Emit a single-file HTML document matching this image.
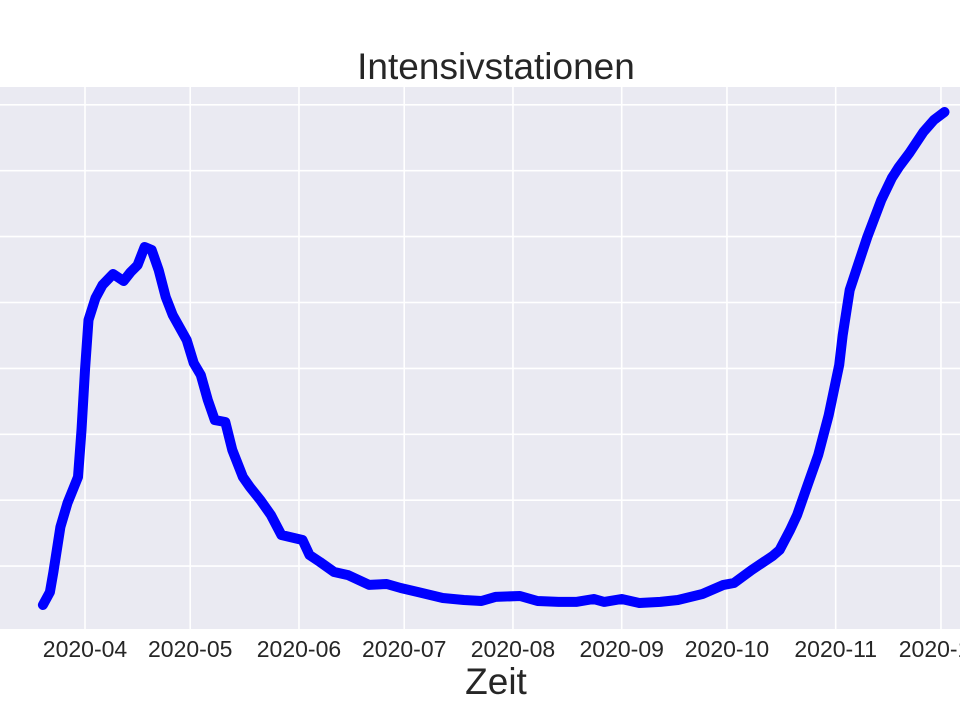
<!DOCTYPE html>
<html><head><meta charset="utf-8"><style>
html,body{margin:0;padding:0;background:#fff;}
svg{display:block;font-family:"Liberation Sans",sans-serif;}
</style></head><body>
<svg id="chart" width="960" height="720" xmlns="http://www.w3.org/2000/svg">
<rect x="0" y="87" width="960" height="542" fill="#eaeaf2"/>
<g id="grid"></g>
<g id="xticks"></g>
<path id="line" fill="none" stroke="#0000ff" stroke-width="10" stroke-linejoin="round" stroke-linecap="round"/>
<text x="496" y="79" text-anchor="middle" font-size="37" fill="#262626">Intensivstationen</text>
<text x="496" y="694" text-anchor="middle" font-size="37" fill="#262626">Zeit</text>
</svg>
<script>
const dates = ["2020-03-20","2020-03-22","2020-03-23","2020-03-25","2020-03-27","2020-03-30","2020-03-31","2020-04-01","2020-04-02","2020-04-04","2020-04-06","2020-04-09","2020-04-12","2020-04-14","2020-04-16","2020-04-18","2020-04-20","2020-04-22","2020-04-24","2020-04-26","2020-04-30","2020-05-02","2020-05-04","2020-05-06","2020-05-08","2020-05-11","2020-05-13","2020-05-16","2020-05-18","2020-05-21","2020-05-24","2020-05-27","2020-06-02","2020-06-04","2020-06-07","2020-06-11","2020-06-15","2020-06-21","2020-06-26","2020-06-30","2020-07-05","2020-07-12","2020-07-18","2020-07-23","2020-07-27","2020-08-03","2020-08-08","2020-08-14","2020-08-19","2020-08-24","2020-08-27","2020-09-01","2020-09-06","2020-09-12","2020-09-17","2020-09-24","2020-09-30","2020-10-03","2020-10-08","2020-10-14","2020-10-16","2020-10-19","2020-10-21","2020-10-24","2020-10-27","2020-10-30","2020-11-02","2020-11-03","2020-11-05","2020-11-08","2020-11-10","2020-11-14","2020-11-17","2020-11-19","2020-11-22","2020-11-26","2020-11-29","2020-12-02"];
const values = [205,303,455,797,979,1176,1533,1988,2367,2534,2633,2716,2663,2731,2784,2921,2898,2746,2542,2405,2215,2041,1950,1760,1608,1593,1381,1176,1100,1001,888,736,698,584,531,455,432,357,364,334,303,258,243,235,266,273,235,228,228,250,228,250,220,228,243,288,357,372,470,577,622,774,888,1115,1343,1646,2026,2253,2595,2838,2997,3278,3444,3528,3634,3794,3885,3945];
const xTickLabels = ["2020-04","2020-05","2020-06","2020-07","2020-08","2020-09","2020-10","2020-11","2020-12"];
const yTicks = [500,1000,1500,2000,2500,3000,3500,4000];

const NS="http://www.w3.org/2000/svg";
const origin = Date.UTC(2020,3,1);
function dayOf(s){const p=s.split("-").map(Number);return (Date.UTC(p[0],p[1]-1,p[2]||1)-origin)/86400000;}
function xScale(s){return 85+dayOf(s)*3.508;}
function yScale(v){return 632-v*0.1318;}

const grid=document.getElementById("grid");
yTicks.forEach(v=>{
  const l=document.createElementNS(NS,"line");
  l.setAttribute("x1",0);l.setAttribute("x2",960);
  l.setAttribute("y1",yScale(v));l.setAttribute("y2",yScale(v));
  l.setAttribute("stroke","#fff");l.setAttribute("stroke-width","1.6");
  
  
  grid.appendChild(l);
});
const xt=document.getElementById("xticks");
xTickLabels.forEach(t=>{
  const x=xScale(t);
  const l=document.createElementNS(NS,"line");
  l.setAttribute("x1",x);l.setAttribute("x2",x);
  l.setAttribute("y1",87);l.setAttribute("y2",629);
  l.setAttribute("stroke","#fff");l.setAttribute("stroke-width","1.6");
  
  
  grid.appendChild(l);
  const tx=document.createElementNS(NS,"text");
  tx.setAttribute("x",x);tx.setAttribute("y",657);
  tx.setAttribute("text-anchor","middle");tx.setAttribute("font-size","23");
  tx.setAttribute("fill","#262626");
  tx.textContent=t;
  
  
  xt.appendChild(tx);
});
let d="";
dates.forEach((s,i)=>{d+=(i?"L":"M")+xScale(s).toFixed(1)+","+yScale(values[i]).toFixed(1);});
document.getElementById("line").setAttribute("d",d);
</script>
</body></html>
